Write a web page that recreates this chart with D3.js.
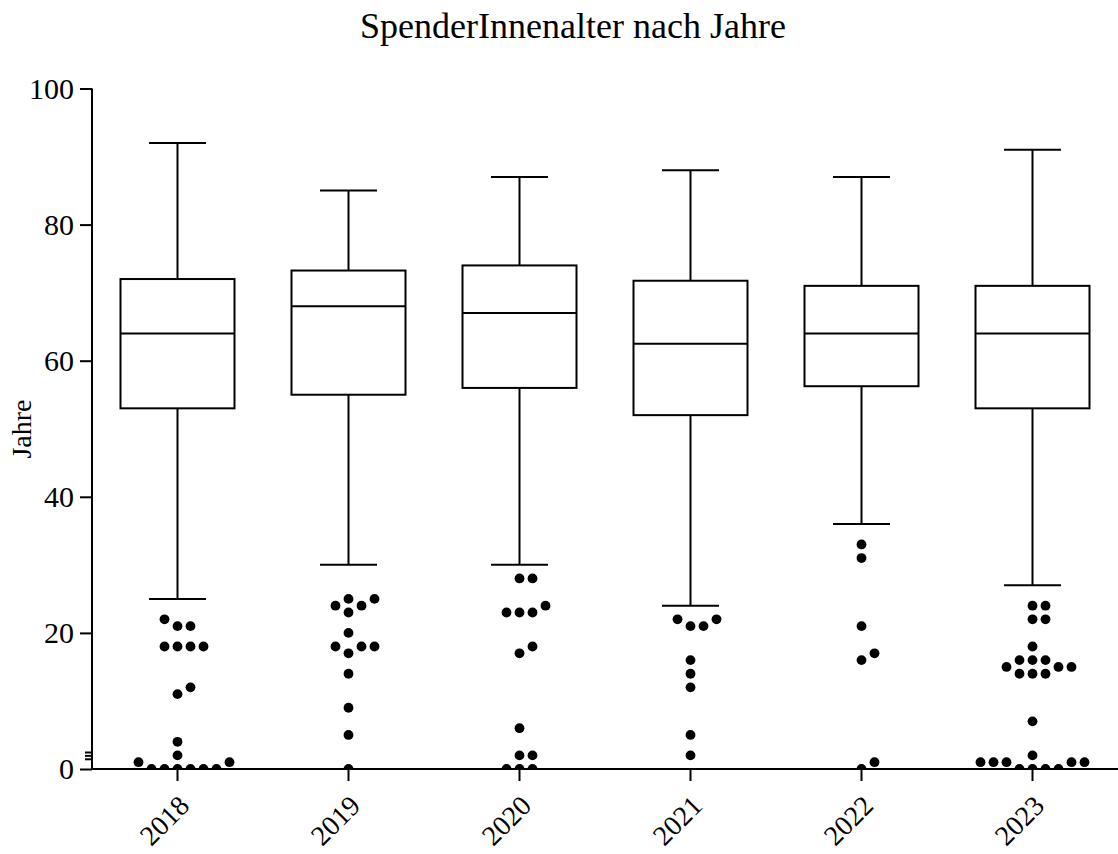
<!DOCTYPE html>
<html>
<head>
<meta charset="utf-8">
<script src="https://cdn.jsdelivr.net/npm/d3@7"></script>
<style>body{margin:0;background:#fff}</style>
</head>
<body>
<svg width="1118" height="854"></svg>
<script>
// box stats per year
const years = ['2018', '2019', '2020', '2021', '2022', '2023'];
const whiskerLow = [25, 30, 30, 24, 36, 27];
const q1 = [53, 55, 56, 52, 56.25, 53];
const median = [64, 68, 67, 62.5, 64, 64];
const q3 = [72, 73.25, 74, 71.75, 71, 71];
const whiskerHigh = [92, 85, 87, 88, 87, 91];

// points outside the whiskers, one list per year
const out2018 = [0, 0, 0, 0, 0, 0, 1, 1, 2, 4, 11, 12, 18, 18, 18, 18, 21, 21, 22];
const out2019 = [0, 5, 9, 14, 17, 18, 18, 18, 20, 23, 24, 24, 25, 25];
const out2020 = [0, 0, 0, 2, 2, 6, 17, 18, 23, 23, 23, 24, 28, 28];
const out2021 = [2, 5, 12, 14, 16, 21, 21, 22, 22];
const out2022 = [0, 1, 16, 17, 21, 31, 33];
const out2023 = [0, 0, 0, 0, 1, 1, 1, 1, 1, 2, 7, 14, 14, 14, 15, 15, 15, 16, 16, 16, 18, 22, 22, 24, 24];
const outliers = [out2018, out2019, out2020, out2021, out2022, out2023];

const yTicks = [0, 20, 40, 60, 80, 100];
const minorTicks = [1.5, 2, 2.5];

const svg = d3.select('svg');
const font = '"Liberation Serif", "Times New Roman", serif';

let x = d3.scaleBand().domain(years).range([92, 1118]).paddingInner(1 / 3).paddingOuter(1 / 6);
let y = d3.scaleLinear().domain([0, 100]).range([769, 88.5]);
const bw = x.bandwidth();

svg.append('text')
    .attr('x', 573).attr('y', 38)
    .attr('text-anchor', 'middle')
    .style('font-family', font).style('font-size', '36px')
    .text('SpenderInnenalter nach Jahre');

svg.append('text')
    .attr('transform', 'translate(31,429) rotate(-90)')
    .attr('text-anchor', 'middle')
    .style('font-family', font).style('font-size', '28px')
    .text('Jahre');

// boxes
const stats = years.map((yr, i) => ({yr, lo: whiskerLow[i], q1: q1[i], med: median[i], q3: q3[i], hi: whiskerHigh[i]}));
const g = svg.append('g').attr('stroke', '#000').attr('stroke-width', 2).attr('fill', 'none');
const box = g.selectAll('g.box').data(stats).enter().append('g').attr('class', 'box')
    .attr('transform', d => 'translate(' + (x(d.yr) + bw / 2) + ',0)');
box.append('line').attr('x1', 0).attr('x2', 0).attr('y1', d => y(d.hi)).attr('y2', d => y(d.q3));
box.append('line').attr('x1', 0).attr('x2', 0).attr('y1', d => y(d.q1)).attr('y2', d => y(d.lo));
box.append('line').attr('x1', -bw / 4).attr('x2', bw / 4).attr('y1', d => y(d.hi)).attr('y2', d => y(d.hi));
box.append('line').attr('x1', -bw / 4).attr('x2', bw / 4).attr('y1', d => y(d.lo)).attr('y2', d => y(d.lo));
box.append('rect').attr('x', -bw / 2).attr('width', bw)
    .attr('y', d => y(d.q3)).attr('height', d => y(d.q1) - y(d.q3)).attr('fill', '#fff');
box.append('line').attr('x1', -bw / 2).attr('x2', bw / 2).attr('y1', d => y(d.med)).attr('y2', d => y(d.med));

// simple column swarm: same slot blocked if dots overlap vertically
const step = 13;
function swarm(values) {
    const slots = [0];
    for (let k = 1; k < 20; k++) slots.push(k, -k);
    const placed = [];
    return values.map(v => {
        const py = y(v);
        const k = slots.find(s => !placed.some(p => p.k === s && Math.abs(p.py - py) < 9));
        placed.push({k, py});
        return {v, k};
    });
}

svg.append('clipPath').attr('id', 'plotClip')
    .append('rect').attr('x', 92).attr('y', 0).attr('width', 1026).attr('height', y(0));

const dots = svg.append('g').attr('clip-path', 'url(#plotClip)');
years.forEach((yr, i) => {
    dots.selectAll('circle.y' + yr).data(swarm(outliers[i])).enter()
        .append('circle').attr('class', 'y' + yr)
        .attr('r', 4.9)
        .attr('cx', d => x(yr) + bw / 2 + d.k * step)
        .attr('cy', d => y(d.v))
        .attr('fill', '#000');
});

// axes
let yAxis = d3.axisLeft(y).tickValues(yTicks).tickSize(12).tickPadding(6);
const yG = svg.append('g').attr('transform', 'translate(92,0)').call(yAxis);
let yMinor = d3.axisLeft(y).tickValues(minorTicks).tickSize(7).tickFormat('');
svg.append('g').attr('transform', 'translate(92,0)').call(yMinor).select('.domain').remove();

let xAxis = d3.axisBottom(x).tickSize(12).tickSizeOuter(0);
const xG = svg.append('g').attr('transform', 'translate(0,769)').call(xAxis);
xG.selectAll('text')
    .attr('text-anchor', 'end')
    .attr('transform', 'translate(-11,14) rotate(-45)')
    .attr('dy', '0.7em');

[yG, xG].forEach(a => {
    a.selectAll('text').style('font-family', font).style('font-size', '30px').attr('fill', '#000');
    a.selectAll('line,path').attr('stroke', '#000').attr('stroke-width', 2);
});
xG.selectAll('text').style('font-size', '28px');
svg.selectAll('.tick line').attr('stroke', '#000').attr('stroke-width', 2);
yG.select('.domain').attr('d', 'M0,' + y(100) + 'V' + y(0));
xG.select('.domain').attr('d', 'M92,0H1118');
</script>
</body>
</html>
